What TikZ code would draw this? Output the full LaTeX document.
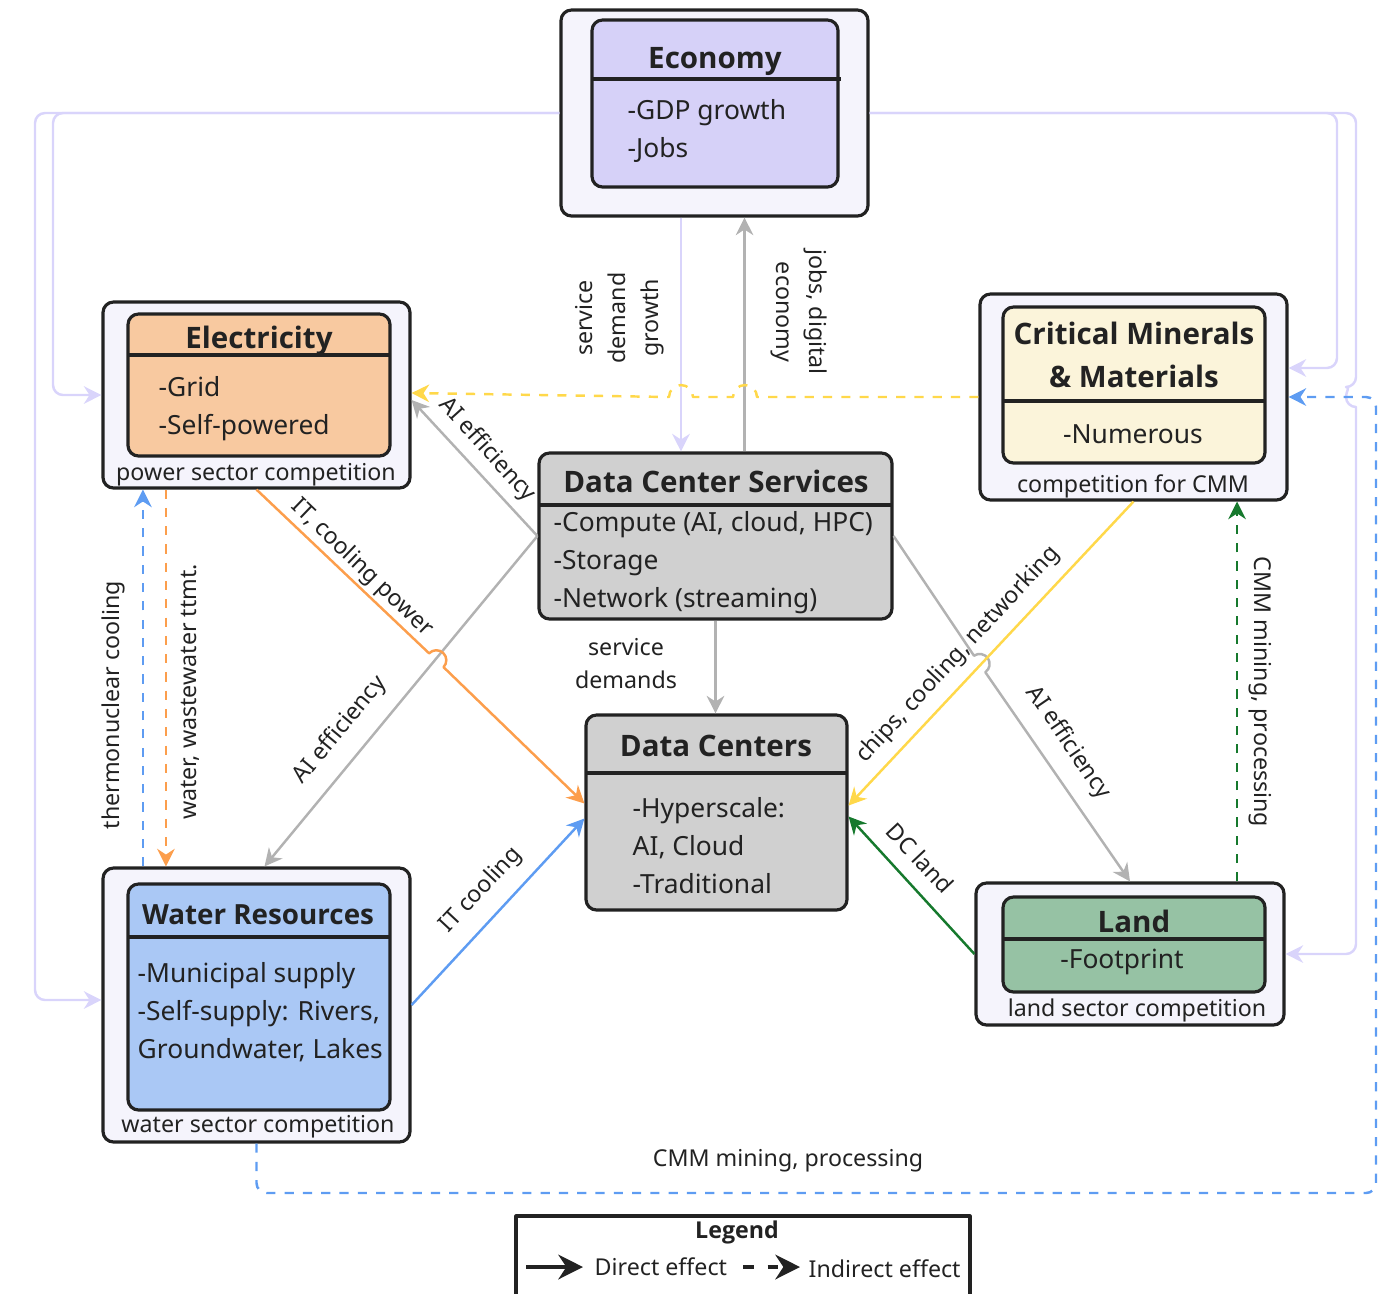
\documentclass[tikz,border=0pt]{standalone}
\usepackage{fontspec}
\setmainfont{Noto Sans}
\newfontfamily\headfont{Open Sans}
\usetikzlibrary{arrows.meta,fit}
\definecolor{outerfill}{HTML}{F5F4FC}
\definecolor{econfill}{HTML}{D6D1F8}
\definecolor{elecfill}{HTML}{F8C9A0}
\definecolor{cmmfill}{HTML}{FBF4DA}
\definecolor{waterfill}{HTML}{AAC8F5}
\definecolor{landfill}{HTML}{96C2A4}
\definecolor{dcfill}{HTML}{D0D0D0}
\definecolor{lav}{HTML}{D9D4FB}
\definecolor{gry}{HTML}{B2B2B2}
\definecolor{yel}{HTML}{FFD84A}
\definecolor{ora}{HTML}{FC9E4C}
\definecolor{blu}{HTML}{5E9CF2}
\definecolor{grn}{HTML}{16792D}
\definecolor{txt}{HTML}{222222}
\tikzset{
  boxout/.style={draw=txt,line width=0.9pt,rounded corners=3pt,fill=outerfill,inner sep=0pt},
  boxin/.style={draw=txt,line width=0.9pt,rounded corners=3pt,inner sep=0pt},
  divline/.style={draw=txt,line width=0.9pt},
  ttl/.style={font=\headfont\bfseries\fontsize{8.4}{12.2}\selectfont,align=center,inner sep=0pt},
  itm/.style={font=\fontsize{7.5}{10.8}\selectfont,align=left,anchor=west,inner sep=0pt},
  lbl/.style={font=\fontsize{6.6}{9.4}\selectfont,align=center,inner sep=0pt},
  con/.style={line width=0.7pt,-{Stealth[length=5pt,width=5pt]}},
  dsh/.style={dash pattern=on 2.6pt off 2.6pt},
}
\begin{document}
\begin{tikzpicture}[x=0.01cm, y=-0.01cm, line join=round, text=txt]
\useasboundingbox (0,0) rectangle (1387,1293);
% outer boxes
\node[boxout, fit={(561,10) (868,216)}] (econO) {};
\node[boxout, fit={(103,302) (410,488)}] (elecO) {};
\node[boxout, fit={(980,294) (1287,500)}] (cmmO) {};
\node[boxout, fit={(103,868) (410,1142)}] (waterO) {};
\node[boxout, fit={(976,883) (1284,1025)}] (landO) {};
% inner boxes
\node[boxin, fill=econfill, fit={(592,20) (838,187)}] (econI) {};
\node[boxin, fill=elecfill, fit={(128,314) (390,456)}] (elecI) {};
\node[boxin, fill=cmmfill, fit={(1003,307) (1265,463)}] (cmmI) {};
\node[boxin, fill=waterfill, fit={(128,884) (390,1110)}] (waterI) {};
\node[boxin, fill=landfill, fit={(1003,897) (1265,992)}] (landI) {};
\node[boxin, fill=dcfill, fit={(539,453) (892,619)}] (dcs) {};
\node[boxin, fill=dcfill, fit={(586,715) (847,910)}] (dc) {};
\draw[divline] (592,79) -- (841,79);
\draw[divline] (128,355) -- (390,355);
\draw[divline] (1003,401) -- (1265,401);
\draw[divline] (128,937) -- (390,937);
\draw[divline] (1003,939) -- (1265,939);
\draw[divline] (539,505) -- (892,505);
\draw[divline] (586,773) -- (847,773);
% texts
\node[ttl] (econT) at (715,61) {Economy};
\node[itm] (econL) at (627,131) {-GDP growth\\-Jobs};
\node[ttl] (elecT) at (259,341) {Electricity};
\node[itm] (elecL) at (158,409) {-Grid\\-Self-powered};
\node[lbl] (elecF) at (256,475) {power sector competition};
\node[ttl] (cmmT) at (1134,355) {Critical Minerals\\\& Materials};
\node[itm, anchor=center] (cmmL) at (1133,434) {-Numerous};
\node[lbl] (cmmF) at (1133,486) {competition for CMM};
\node[ttl] (dcsT) at (716,481) {Data Center Services};
\node[itm] (dcsL) at (553,563) {-Compute (AI, cloud, HPC)\\-Storage\\-Network (streaming)};
\node[ttl] (dcT) at (716,746) {Data Centers};
\node[itm] (dcL) at (632,846) {-Hyperscale:\\AI, Cloud\\-Traditional};
\node[ttl, font=\headfont\bfseries\fontsize{7.9}{10}\selectfont] (waterT) at (258,915) {Water Resources};
\node[itm] (waterL) at (137,1012) {-Municipal supply\\-Self-supply: Rivers,\\Groundwater, Lakes};
\node[lbl] (waterF) at (258,1127) {water sector competition};
\node[ttl] (landT) at (1134,921) {Land};
\node[itm, anchor=center] (landL) at (1122,962) {-Footprint};
\node[lbl] (landF) at (1137,1010) {land sector competition};
% economy loops
\draw[con, lav, rounded corners=0.1cm] (econO.west) -- (53,113) |- (elecO.west);
\draw[con, lav, rounded corners=0.1cm] (econO.west) -- (35,113) |- ([yshift=0.05cm]waterO.west);
\draw[con, lav, rounded corners=0.1cm] (econO.east) -- (1337,113) |- ([yshift=0.29cm]cmmO.east);
\draw[con, lav] (econO.east) [rounded corners=0.1cm] -- (1356,113) -- (1356,387) [sharp corners]
  arc[start angle=270, end angle=90, radius=10] [rounded corners=0.1cm] |- (landO.east);
% economy <-> services
\coordinate (eA) at ([xshift=-0.335cm]econO.south);
\coordinate (eB) at ([xshift=0.29cm]dcs.north);
\draw[con, lav] (eA) -- (eA |- dcs.north);
\draw[con, gry] (eB) -- (eB |- econO.south);
\node[lbl, rotate=90] (l1) at (620,318) {service\\demand\\growth};
\node[lbl, rotate=-90] (l2) at (799,312) {jobs, digital\\economy};
% CMM -> electricity (jumps)
\draw[con, yel, dsh] (cmmO.west) -- (757,397) arc[start angle=0, end angle=-180, radius=12]
  -- (693,397) arc[start angle=0, end angle=-180, radius=12] -- ([yshift=0.02cm]elecO.east);
% services -> electricity, water, land
\draw[con, gry] (dcs.west) -- ([yshift=-0.05cm]elecO.east);
\node[lbl, rotate=-47.7] (l3) at (487,450) {AI efficiency};
\draw[con, gry] (dcs.west) -- ([xshift=0.08cm]waterO.north);
\node[lbl, rotate=50.4] (l4) at (340,730) {AI efficiency};
\draw[con, gry] (dcs.east) -- (974.0,655.7) arc[start angle=235.56, end angle=415.56, radius=10] -- (landO.north);
\node[lbl, rotate=-55.6] (l5) at (1068,743) {AI efficiency};
% services -> data centers
\draw[con, gry] (dcs.south) -- (dcs.south |- dc.north);
\node[lbl] (l6) at (626,664) {service\\demands};
% electricity -> data centers (jump)
\draw[con, ora] (elecO.south) -- (429.1,653.3) arc[start angle=223.76, end angle=403.76, radius=10] -- ([yshift=0.09cm]dc.west);
\node[lbl, rotate=-43.8] (l7) at (362,568) {IT, cooling power};
% electricity <-> water
\draw[con, ora, dsh] ([xshift=-0.905cm]elecO.south) -- ([xshift=-0.905cm]waterO.north);
\node[lbl, rotate=90] (l8) at (190,692) {water, wastewater ttmt.};
\draw[con, blu, dsh] ([xshift=-1.135cm]waterO.north) -- ([xshift=-1.135cm]elecO.south);
\node[lbl, rotate=90] (l9) at (113,705) {thermonuclear cooling};
% water -> data centers
\draw[con, blu] (waterO.east) -- ([yshift=-0.06cm]dc.west);
\node[lbl, rotate=46.9] (l10) at (481,890) {IT cooling};
% CMM -> data centers
\draw[con, yel] (cmmO.south) -- ([yshift=0.07cm]dc.east);
\node[lbl, rotate=47.1] (l11) at (958,655) {chips, cooling, networking};
% land -> data centers, CMM
\draw[con, grn] (landO.west) -- ([yshift=-0.04cm]dc.east);
\node[lbl, rotate=-46.9] (l12) at (920,858) {DC land};
\coordinate (lA) at ([xshift=1.07cm]landO.north);
\draw[con, grn, dsh] (lA) -- (lA |- cmmO.south);
\node[lbl, rotate=-90] (l13) at (1260,692) {CMM mining, processing};
% water -> CMM
\draw[con, blu, dsh, rounded corners=0.1cm] (waterO.south) |- (1376,1193) |- (cmmO.east);
\node[lbl] (l14) at (788,1161) {CMM mining, processing};
% legend
\node[draw=txt, line width=0.9pt, inner sep=0pt, fit={(516,1216) (970,1330)}] (legend) {};
\node[lbl, font=\headfont\bfseries\fontsize{6.6}{8}\selectfont] (legT) at (737,1232) {Legend};
\coordinate (d1) at (526,1267);
\coordinate (d2) at (583,1267);
\coordinate (i1) at (743,1267);
\coordinate (i2) at (800,1267);
\draw[txt, line width=1.2pt, -{Stealth[length=7pt,width=7pt]}] (d1) -- (d2);
\node[lbl, anchor=west] (legD) at (594,1267) {Direct effect};
\draw[txt, line width=1.2pt, dash pattern=on 3pt off 4pt, -{Stealth[length=7pt,width=7pt]}] (i1) -- (i2);
\node[lbl, anchor=west] (legI) at (808,1269) {Indirect effect};
\end{tikzpicture}
\end{document}
